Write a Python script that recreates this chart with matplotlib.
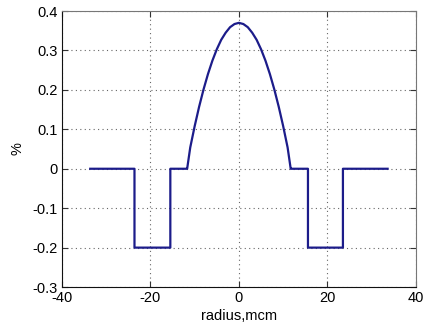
import matplotlib
matplotlib.use("Agg")
import matplotlib.pyplot as plt

# profile: flat rings, negative wells, parabolic core
x_left = [-33.6, -23.6, -23.6, -15.5, -15.5, -11.8]
y_left = [0.0, 0.0, -0.2, -0.2, 0.0, 0.0]
x_core = [-11.7, -11, -10, -9, -8, -7, -6, -5, -4, -3, -2, -1, 0,
          1, 2, 3, 4, 5, 6, 7, 8, 9, 10, 11, 11.7]
y_core = [0.0, 0.054, 0.108, 0.157, 0.201, 0.240, 0.274, 0.303, 0.327, 0.345, 0.359, 0.367, 0.370,
          0.367, 0.359, 0.345, 0.327, 0.303, 0.274, 0.240, 0.201, 0.157, 0.108, 0.054, 0.0]
x_right = [11.8, 15.6, 15.6, 23.5, 23.5, 33.6]
y_right = [0.0, 0.0, -0.2, -0.2, 0.0, 0.0]

xs = x_left + x_core + x_right
ys = y_left + y_core + y_right

plt.rcParams["font.family"] = ["Liberation Sans", "DejaVu Sans"]
plt.rcParams["axes.unicode_minus"] = False

fig = plt.figure(figsize=(4.24, 3.24), dpi=100)
ax = fig.add_axes([0.146, 0.114, 0.835, 0.852])
ax.plot(xs, ys, color="#1c1c8a", lw=1.6)

ax.set_xlim(-40, 40)
ax.set_ylim(-0.3, 0.4)
ax.set_xticks([-40, -20, 0, 20, 40])
ax.set_yticks([-0.3, -0.2, -0.1, 0, 0.1, 0.2, 0.3, 0.4])
ax.set_yticklabels(["-0.3", "-0.2", "-0.1", "0", "0.1", "0.2", "0.3", "0.4"])
ax.grid(True, ls=(0, (1, 3)), color="#666666", lw=0.8)
ax.tick_params(direction="in", length=4, top=True, right=True,
               labelsize=10.5, pad=3, color="#333333")
for side in ["left", "bottom"]:
    ax.spines[side].set_color("#111111")
for side in ["top", "right"]:
    ax.spines[side].set_color("#777777")
ax.set_xlabel("radius,mcm", fontsize=10.5, labelpad=3)
ax.set_ylabel("%", fontsize=10.5, labelpad=6)

fig.savefig("out.png", dpi=100)
